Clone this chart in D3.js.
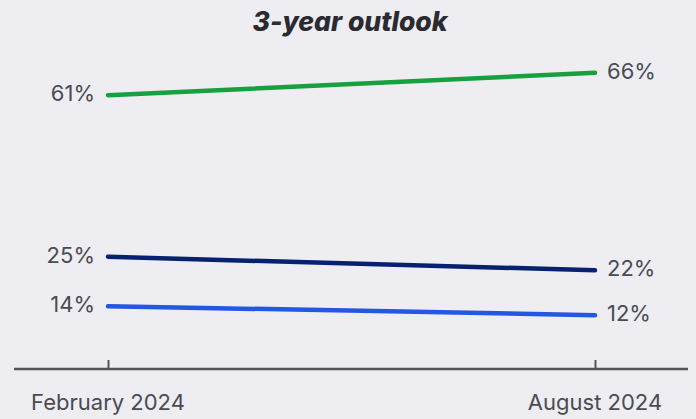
<!DOCTYPE html>
<html>
<head>
<meta charset="utf-8">
<script src="https://cdn.jsdelivr.net/npm/d3@7"></script>
<style>
  html, body { margin: 0; padding: 0; background: #ededf2; }
  svg { display: block; }
  text { font-family: Inter, "Noto Sans", sans-serif; }
</style>
</head>
<body>
<svg id="chart" width="696" height="419"></svg>
<script>
// Survey periods on the x axis
const periods = ["February 2024", "August 2024"];

// Share of respondents per outlook group, one value per period
const seriesNames = ["Improve", "Stay the same", "Worsen"];
const improveValues = [61, 66];
const sameValues = [25, 22];
const worseValues = [14, 12];
const seriesColors = ["#17a03f", "#06216f", "#2358e3"];

const title = "3-year outlook";

const width = 696, height = 419;
const svg = d3.select("#chart");

const x = d3.scalePoint()
  .domain(periods)
  .range([108, 595]);

const y = d3.scaleLinear()
  .domain([0, 80])
  .range([369, 10]);

const series = [improveValues, sameValues, worseValues].map((vals, i) => ({
  name: seriesNames[i],
  color: seriesColors[i],
  points: periods.map((p, j) => ({ period: p, value: vals[j] }))
}));

// Title
svg.append("text")
  .attr("x", 350)
  .attr("y", 31)
  .attr("text-anchor", "middle")
  .attr("font-size", 26.5)
  .attr("font-weight", 800)
  .attr("font-style", "italic")
  .attr("fill", "#2a2a30")
  .text(title);

// Bottom axis with ticks pointing up into the plot
const axis = d3.axisBottom(x).tickSize(0).tickPadding(0);
const gx = svg.append("g").attr("transform", `translate(0,${y(0)})`);
gx.call(axis);
gx.select(".domain").remove();
gx.selectAll(".tick text").remove();
gx.append("line")
  .attr("x1", 14).attr("x2", 688)
  .attr("y1", 0).attr("y2", 0)
  .attr("stroke", "#555559").attr("stroke-width", 2.5);
gx.selectAll(".tick").append("line")
  .attr("y1", 0).attr("y2", -9)
  .attr("stroke", "#555559").attr("stroke-width", 2);

svg.append("g").selectAll("text")
  .data(periods)
  .join("text")
  .attr("x", d => x(d))
  .attr("y", 410)
  .attr("text-anchor", "middle")
  .attr("font-size", 22)
  .attr("fill", "#4b4b52")
  .text(d => d);

// Lines
const line = d3.line()
  .x(d => x(d.period))
  .y(d => y(d.value));

svg.append("g").selectAll("path")
  .data(series)
  .join("path")
  .attr("d", d => line(d.points))
  .attr("fill", "none")
  .attr("stroke", d => d.color)
  .attr("stroke-width", 4.5)
  .attr("stroke-linecap", "round");

// End labels
const labels = svg.append("g");
series.forEach(s => {
  const first = s.points[0], last = s.points[s.points.length - 1];
  labels.append("text")
    .attr("x", x(first.period) - 13)
    .attr("y", y(first.value) - 2)
    .attr("dy", "0.36em")
    .attr("text-anchor", "end")
    .attr("font-size", 22)
    .attr("fill", "#4b4b52")
    .text(first.value + "%");
  labels.append("text")
    .attr("x", x(last.period) + 12)
    .attr("y", y(last.value) - 2)
    .attr("dy", "0.36em")
    .attr("text-anchor", "start")
    .attr("font-size", 22)
    .attr("fill", "#4b4b52")
    .text(last.value + "%");
});
</script>
</body>
</html>
